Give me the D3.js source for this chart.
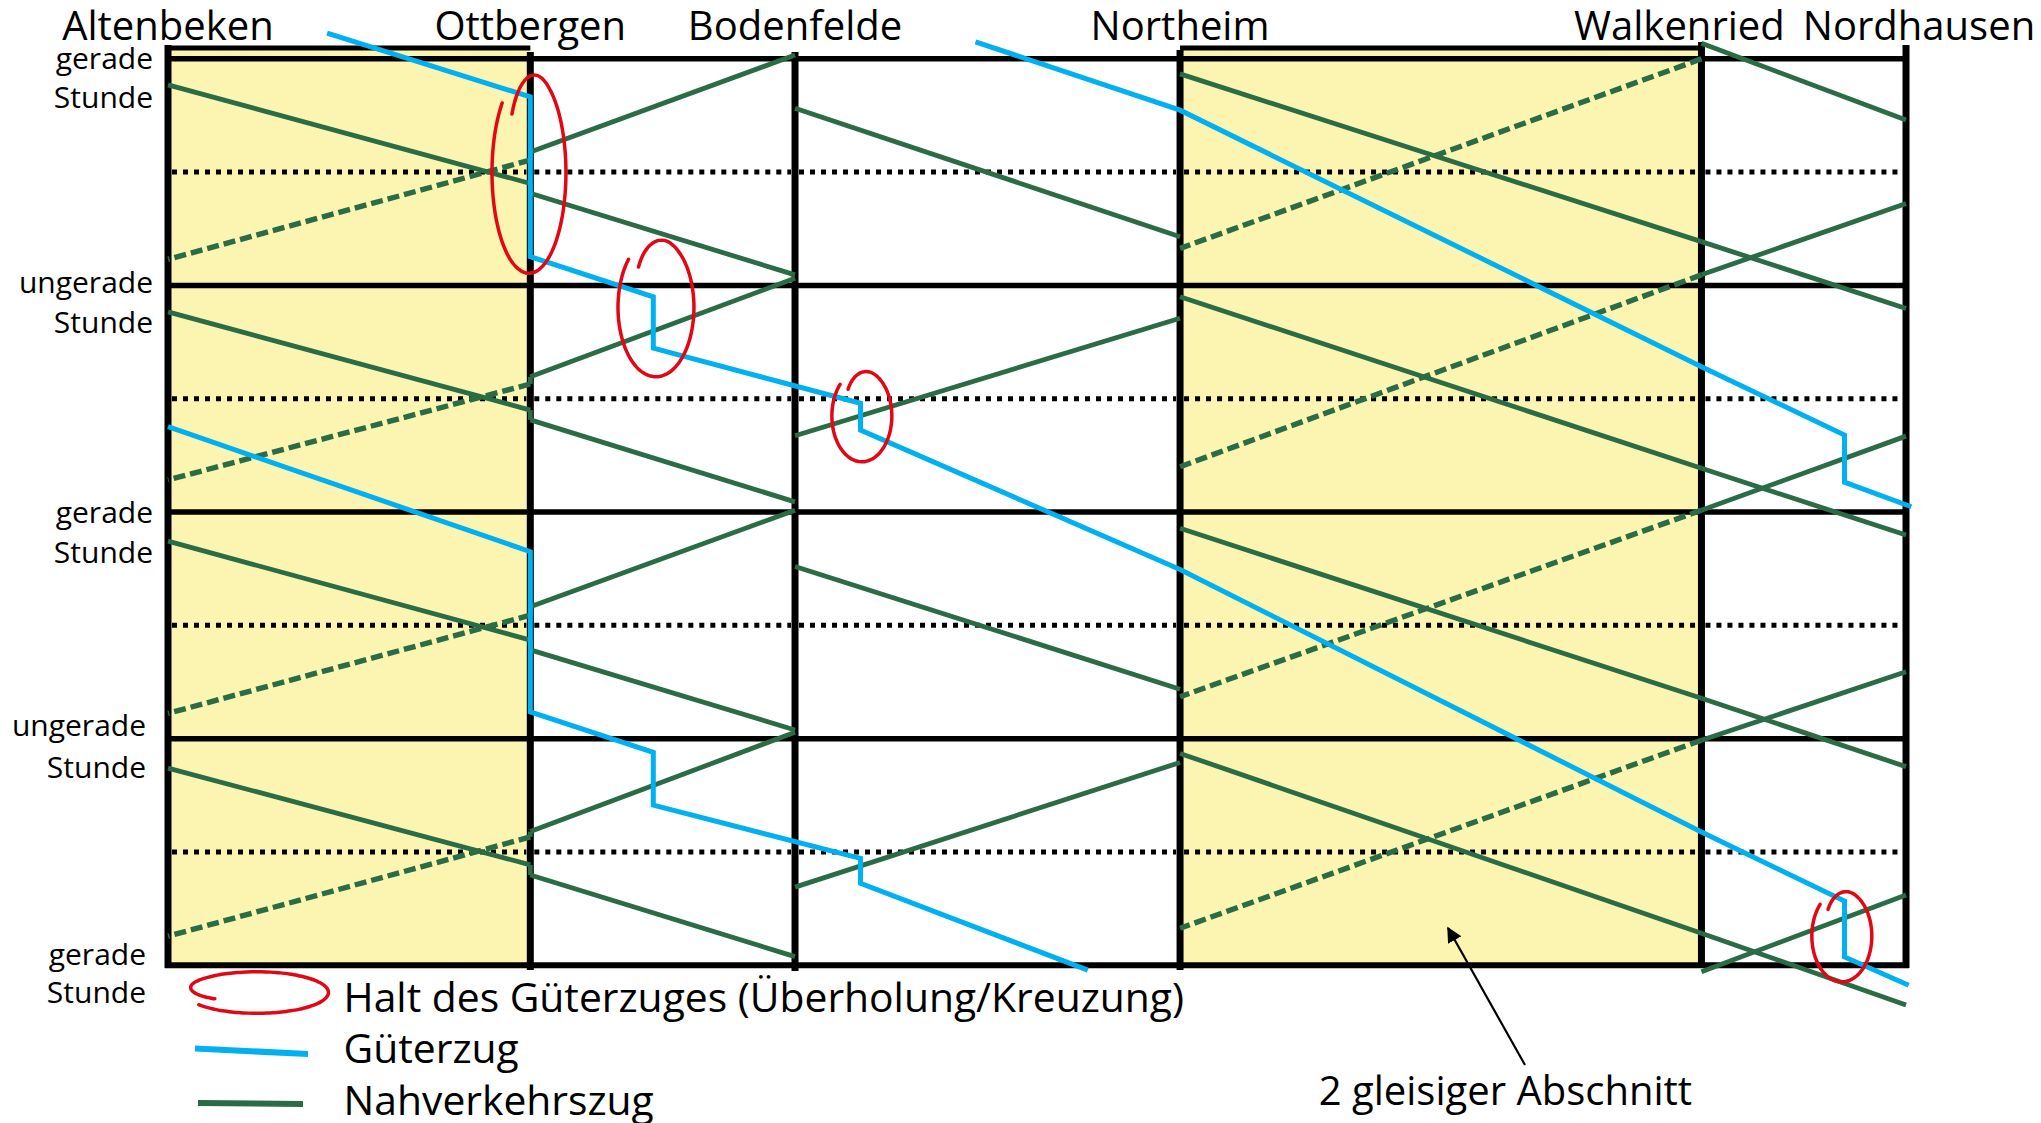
<!DOCTYPE html>
<html>
<head>
<meta charset="utf-8">
<script src="https://cdn.jsdelivr.net/npm/d3@7"></script>
<style>
    body { margin: 0; background: #fff; }
    svg text { font-family: "Open Sans", "DejaVu Sans", sans-serif; fill: #000; }
</style>
</head>
<body>
<div id="chart"></div>
<script>
// stations along the line (km) and the hour marks (minutes)
var stations = ["Altenbeken", "Ottbergen", "Bodenfelde", "Northeim", "Walkenried", "Nordhausen"];
var stationKm = [0, 27.1, 46.9, 75.7, 114.7, 130];
var hourTicks = [0, 60, 120, 180, 240];
var hourNames = ["gerade", "ungerade", "gerade", "ungerade", "gerade"];
var halfHours = [30, 90, 150, 210];
var doubleTrack = [[0, 27.1], [75.7, 114.7]];

// Nahverkehrszug paths, [km, minute]
var nahverkehr = [
    [[0, 6.9], [27.1, 33.0], [27.1, 35.6], [46.9, 57.2]],
    [[0, 67.0], [27.1, 93.0], [27.1, 95.6], [46.9, 117.3]],
    [[0, 127.7], [27.1, 153.9], [27.1, 156.5], [46.9, 177.7]],
    [[0, 187.8], [27.1, 213.4], [27.1, 216.1], [46.9, 237.7]],
    [[46.9, -1.0], [27.1, 24.7], [27.1, 26.8], [0, 53.1]],
    [[46.9, 58.1], [27.1, 84.2], [27.1, 86.1], [0, 111.5]],
    [[46.9, 119.5], [27.1, 145.1], [27.1, 147.3], [0, 173.3]],
    [[46.9, 178.3], [27.1, 204.6], [27.1, 206.0], [0, 232.3]],
    [[46.9, 13.1], [75.7, 47.1]],
    [[46.9, 134.4], [75.7, 166.9]],
    [[75.7, 68.7], [46.9, 99.8]],
    [[75.7, 186.3], [46.9, 219.3]],
    [[114.7, -4.1], [130, 16.2]],
    [[75.7, 4.0], [114.7, 48.4], [130, 66.1]],
    [[75.7, 63.0], [114.7, 108.4], [130, 126.1]],
    [[75.7, 124.3], [114.7, 169.3], [130, 187.4]],
    [[75.7, 183.9], [114.7, 231.5], [130, 250.5]],
    [[114.7, 0], [75.7, 50.2]],
    [[130, 38.3], [114.7, 57.2], [75.7, 108.0]],
    [[130, 99.9], [114.7, 119.5], [75.7, 168.9]],
    [[130, 162.3], [114.7, 180.4], [75.7, 230.2]],
    [[130, 221.4], [114.7, 241.7]]
];

// Güterzug paths, [km, minute]
var gueterzug = [
    [[11.9, -6.8], [27.1, 10.1], [27.1, 52.4], [36.3, 63.0], [36.3, 76.6], [51.8, 91.2], [51.8, 98.3],
        [75.7, 135.2], [114.7, 204.7], [125.4, 223.0], [125.4, 237.8], [130.2, 245.3]],
    [[60.4, -4.5], [75.7, 13.6], [114.7, 81.5], [125.4, 99.6], [125.4, 112.1], [130.4, 118.6]],
    [[0, 97.4], [27.1, 130.5], [27.1, 172.9], [36.3, 183.6], [36.3, 197.6], [51.8, 211.7], [51.8, 218.3],
        [68.8, 241.3]]
];

// Halt markings: km, ring top / bottom in minutes
var halts = [[27.0, 3.4, 56.8], [36.5, 47.4, 84.2], [51.9, 82.4, 106.7], [125.2, 220.1, 244.4]];

var legendItems = ["Halt des Güterzuges (Überholung/Kreuzung)", "Güterzug", "Nahverkehrszug"];
var noteText = "2 gleisiger Abschnitt";

window.onload = function () {

    var width = 2041;
    var height = 1123;

    var GREEN = "#2a6c46";
    var BLUE = "#00b0f0";
    var RED = "#e30613";
    var YELLOW = "#fcf5b1";

    var x = d3.scaleLinear().domain([0, 130]).range([168, 1906]);
    var y = d3.scaleLinear().domain([0, 240]).range([58.8, 965.3]);

    var svg = d3.select("#chart")
        .append("svg").attr("width", width).attr("height", height);

    svg.append("rect").attr("width", width).attr("height", height).attr("fill", "#fff");

    // yellow double track sections with their top border
    svg.selectAll(".dt").data(doubleTrack).enter()
        .append("rect")
        .attr("x", function (d) { return x(d[0]); })
        .attr("y", 46)
        .attr("width", function (d) { return x(d[1]) - x(d[0]); })
        .attr("height", y(240) - 46)
        .attr("fill", YELLOW);

    svg.selectAll(".dtTop").data(doubleTrack).enter()
        .append("line")
        .attr("x1", function (d) { return x(d[0]); })
        .attr("x2", function (d) { return x(d[1]); })
        .attr("y1", 48).attr("y2", 48)
        .attr("stroke", "#000").attr("stroke-width", 5);

    // hour lines
    svg.selectAll(".hour").data(hourTicks).enter()
        .append("line")
        .attr("x1", x(0) - 3).attr("x2", x(130) + 3)
        .attr("y1", function (d) { return y(d); })
        .attr("y2", function (d) { return y(d); })
        .attr("stroke", "#000").attr("stroke-width", function (d) { return d === 240 ? 6 : 5.5; });

    // half hour dotted lines, one per section
    var sections = d3.pairs(stationKm);
    halfHours.forEach(function (t) {
        svg.selectAll(null).data(sections).enter()
            .append("line")
            .attr("x1", function (d) { return x(d[0]) + 4; })
            .attr("x2", function (d) { return x(d[1]) - 4; })
            .attr("y1", y(t)).attr("y2", y(t))
            .attr("stroke", "#000").attr("stroke-width", 5)
            .attr("stroke-dasharray", "5 6");
    });

    // station verticals
    var lineTop = [45, 52, 52, 50, 42, 45];
    var lineBottom = [968, 970, 971, 970, 968, 968];
    svg.selectAll(".st").data(stationKm).enter()
        .append("line")
        .attr("x1", function (d) { return x(d); })
        .attr("x2", function (d) { return x(d); })
        .attr("y1", function (d, i) { return lineTop[i]; })
        .attr("y2", function (d, i) { return lineBottom[i]; })
        .attr("stroke", "#000").attr("stroke-width", 7);

    function inDoubleTrack(a, b) {
        return doubleTrack.some(function (s) {
            return Math.min(a, b) >= s[0] - 0.01 && Math.max(a, b) <= s[1] + 0.01;
        });
    }

    // Nahverkehr: every leg on its own, dashed for the opposite track of a double track section
    var legs = [];
    nahverkehr.forEach(function (path) {
        d3.pairs(path).forEach(function (p) {
            legs.push({
                a: p[0], b: p[1],
                dashed: p[1][0] < p[0][0] && inDoubleTrack(p[0][0], p[1][0])
            });
        });
    });

    svg.selectAll(".nv").data(legs).enter()
        .append("line")
        .attr("x1", function (d) { return x(d.a[0]); })
        .attr("y1", function (d) { return y(d.a[1]); })
        .attr("x2", function (d) { return x(d.b[0]); })
        .attr("y2", function (d) { return y(d.b[1]); })
        .attr("stroke", GREEN)
        .attr("stroke-width", function (d) { return d.dashed ? 5.4 : 4.8; })
        .attr("stroke-dasharray", function (d) { return d.dashed ? "12 5" : null; });

    var line = d3.line()
        .x(function (d) { return x(d[0]); })
        .y(function (d) { return y(d[1]); });

    svg.selectAll(".gz").data(gueterzug).enter()
        .append("path")
        .attr("d", line)
        .attr("fill", "none")
        .attr("stroke", BLUE).attr("stroke-width", 5)
        .attr("stroke-linejoin", "miter");

    // hand drawn rings
    function lasso(cx, cy, rx, ry, a0, r0, sweep) {
        var pts = [];
        for (var i = 0; i <= 90; i++) {
            var f = i / 90;
            var a = a0 + sweep * f;
            var r = f < 0.18 ? r0 + (1 - r0) * Math.sin(f / 0.18 * Math.PI / 2) : 1;
            pts.push([cx + rx * r * Math.sin(a), cy - ry * r * Math.cos(a)]);
        }
        return d3.line().curve(d3.curveBasis)(pts);
    }

    var ringWidth = [37, 38, 30, 30];
    svg.selectAll(".halt").data(halts).enter()
        .append("path")
        .attr("d", function (d, i) {
            var cy = (y(d[1]) + y(d[2])) / 2;
            var ry = (y(d[2]) - y(d[1])) / 2;
            return lasso(x(d[0]), cy, ringWidth[i], ry, -0.67, 0.74, 2 * Math.PI - 0.14);
        })
        .attr("fill", "none")
        .attr("stroke", RED).attr("stroke-width", 3.5)
        .attr("stroke-linecap", "round");

    // station names
    var nameShift = [0, 0, 0, 0, -22, 13];
    svg.selectAll(".sname").data(stations).enter()
        .append("text")
        .attr("x", function (d, i) { return x(stationKm[i]) + nameShift[i]; })
        .attr("y", 40)
        .attr("text-anchor", "middle")
        .style("font-size", "40px")
        .text(function (d) { return d; });

    // hour labels
    var labelPos = [[153, 10, 49], [153, 8, 48], [153, 10.5, 50.5], [146, -3, 39], [146, 0, 38]];
    var hl = svg.selectAll(".hname").data(hourTicks).enter()
        .append("text")
        .attr("text-anchor", "end")
        .style("font-size", "30px");
    hl.append("tspan")
        .attr("x", function (d, i) { return labelPos[i][0]; })
        .attr("y", function (d, i) { return y(d) + labelPos[i][1]; })
        .text(function (d, i) { return hourNames[i]; });
    hl.append("tspan")
        .attr("x", function (d, i) { return labelPos[i][0]; })
        .attr("y", function (d, i) { return y(d) + labelPos[i][2]; })
        .text("Stunde");

    // legend
    svg.append("path")
        .attr("d", lasso(256.8, 992.5, 71.7, 20.8, -2.05, 0.66, 2 * Math.PI - 0.15))
        .attr("fill", "none")
        .attr("stroke", RED).attr("stroke-width", 3.5)
        .attr("stroke-linecap", "round");
    svg.append("line")
        .attr("x1", 195).attr("y1", 1048.5).attr("x2", 308).attr("y2", 1054)
        .attr("stroke", BLUE).attr("stroke-width", 6);
    svg.append("line")
        .attr("x1", 198).attr("y1", 1103).attr("x2", 303).attr("y2", 1104)
        .attr("stroke", GREEN).attr("stroke-width", 6);

    var legendY = [1011.5, 1063, 1115];
    svg.selectAll(".leg").data(legendItems).enter()
        .append("text")
        .attr("x", 343.6)
        .attr("y", function (d, i) { return legendY[i]; })
        .style("font-size", "40.8px")
        .text(function (d) { return d; });

    // note with arrow
    svg.append("defs").append("marker")
        .attr("id", "arrow")
        .attr("viewBox", "0 0 10 10")
        .attr("refX", 9).attr("refY", 5)
        .attr("markerWidth", 7).attr("markerHeight", 7)
        .attr("markerUnits", "strokeWidth")
        .attr("orient", "auto")
        .append("path")
        .attr("d", "M0,0 L10,5 L0,10 z")
        .attr("fill", "#000");

    svg.append("line")
        .attr("x1", 1525).attr("y1", 1065)
        .attr("x2", 1448).attr("y2", 928)
        .attr("stroke", "#000").attr("stroke-width", 2.2)
        .attr("marker-end", "url(#arrow)");

    svg.append("text")
        .attr("x", 1318.7).attr("y", 1105)
        .style("font-size", "40px")
        .text(noteText);
};
</script>
</body>
</html>
